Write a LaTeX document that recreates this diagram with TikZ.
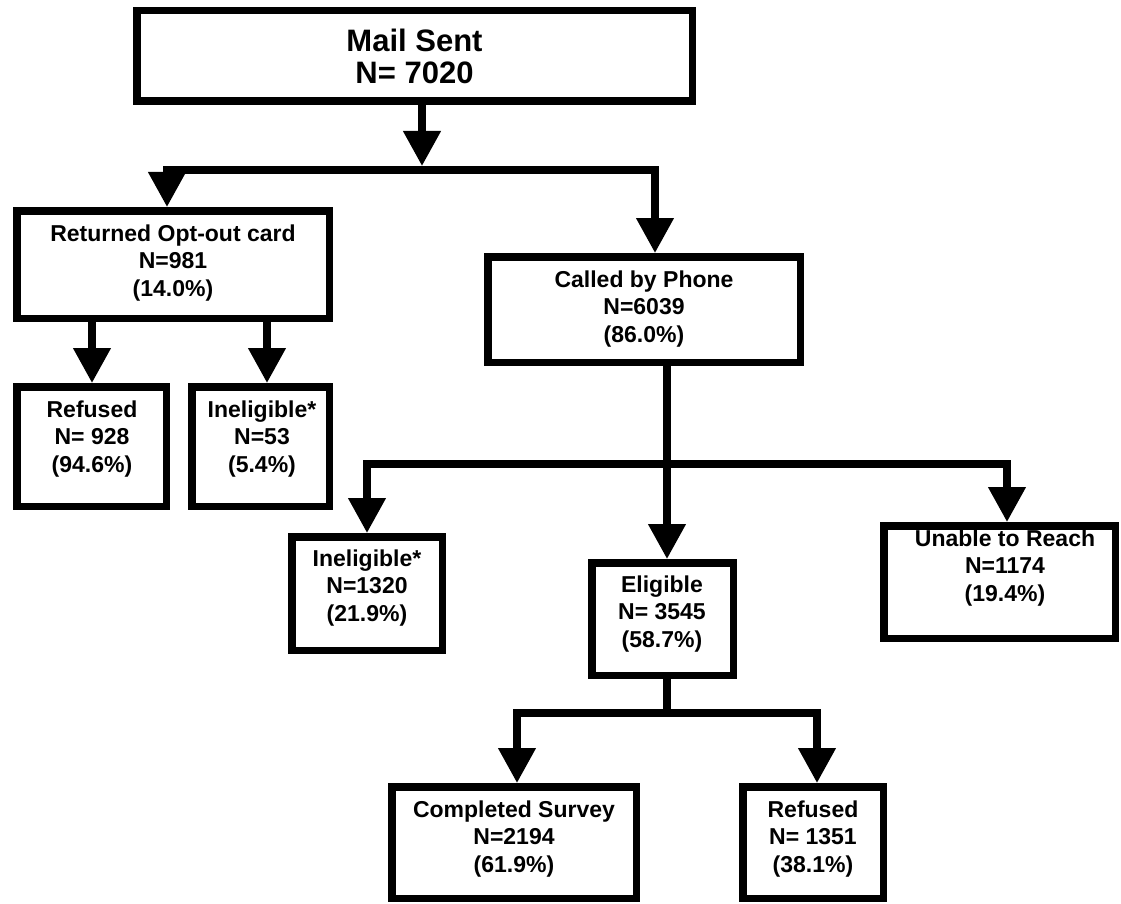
\documentclass[tikz,border=0pt]{standalone}
\usepackage{fontspec}
\setmainfont{Liberation Sans}
\usetikzlibrary{arrows.meta}
\begin{document}
\begin{tikzpicture}[x=1pt,y=-1pt,
  box/.style={draw, line width=7.5pt, inner sep=0pt, fill=white},
  txt/.style={align=center, font=\bfseries\fontsize{23}{27.5}\selectfont, inner sep=0pt},
  ln/.style={line width=7.5pt, line join=miter},
  tri/.style={-{Triangle[length=35pt,width=36pt]}},
  tritwo/.style={{Triangle[length=35pt,width=36pt]}-{Triangle[length=35pt,width=36pt]}}
]
\fill[white] (0,0) rectangle (1121,904);
\useasboundingbox (0,0) rectangle (1121,904);

% boxes
\node[box, minimum width=555.5pt, minimum height=90.5pt] (mail) at (414.5,56) {};
\node[box, minimum width=312.5pt, minimum height=107.5pt] (ret) at (173,264.5) {};
\node[box, minimum width=312.5pt, minimum height=105.5pt] (call) at (644,309.5) {};
\node[box, minimum width=149.5pt, minimum height=119.5pt] (ref1) at (91.5,446.5) {};
\node[box, minimum width=137.5pt, minimum height=119.5pt] (inel1) at (260.5,446.5) {};
\node[box, minimum width=150.5pt, minimum height=113.5pt] (inel2) at (367,593.5) {};
\node[box, minimum width=141.5pt, minimum height=112.5pt] (elig) at (662.5,619) {};
\node[box, minimum width=231.5pt, minimum height=112.5pt] (unable) at (999.5,582) {};
\node[box, minimum width=244.5pt, minimum height=111.5pt] (comp) at (514,842.5) {};
\node[box, minimum width=140.5pt, minimum height=111.5pt] (ref2) at (813,842.5) {};

% texts
\node[txt, font=\bfseries\fontsize{31}{32}\selectfont] (mail-t) at (414.5,56) {Mail Sent\\N= 7020};
\node[txt] (ret-t) at (173,263) {Returned Opt-out card\\N=981\\(14.0\%)};
\node[txt] (call-t) at (644,309) {Called by Phone\\N=6039\\(86.0\%)};
\node[txt] (ref1-t) at (92,439) {Refused\\N= 928\\(94.6\%)};
\node[txt] (inel1-t) at (262,439) {Ineligible*\\N=53\\(5.4\%)};
\node[txt] (inel2-t) at (367,588) {Ineligible*\\N=1320\\(21.9\%)};
\node[txt] (elig-t) at (662,614) {Eligible\\N= 3545\\(58.7\%)};
\node[txt] (unable-t) at (1005,568) {Unable to Reach\\N=1174\\(19.4\%)};
\node[txt] (comp-t) at (514,839) {Completed Survey\\N=2194\\(61.9\%)};
\node[txt] (ref2-t) at (813,839) {Refused\\N= 1351\\(38.1\%)};

% connectors
\coordinate (m1) at (422,166);
\coordinate (a1) at (167,170);
\coordinate (a2) at (655,170);
\coordinate (b1) at (92,0);
\coordinate (b2) at (267,0);
\coordinate (c0) at (667,464);
\coordinate (c1) at (367,464);
\coordinate (c2) at (1007,464);
\coordinate (d0) at (667,713);
\coordinate (d1) at (517,713);
\coordinate (d2) at (817,713);

\draw[ln,tri] (mail.south -| m1) -- (m1);
\draw[ln,tritwo] (ret.north -| a1) -- (a1) -- (a2) -- (a2 |- call.north);
\draw[ln,tri] (ret.south -| b1) -- (ref1.north -| b1);
\draw[ln,tri] (ret.south -| b2) -- (inel1.north -| b2);
\draw[ln,tri] (call.south -| c0) -- (elig.north -| c0);
\draw[ln,tritwo] (inel2.north -| c1) -- (c1) -- (c2) -- (unable.north -| c2);
\draw[ln] (elig.south -| d0) -- ([yshift=-3.75pt]d0);
\draw[ln,tritwo] (comp.north -| d1) -- (d1) -- (d2) -- (ref2.north -| d2);
\end{tikzpicture}
\end{document}
